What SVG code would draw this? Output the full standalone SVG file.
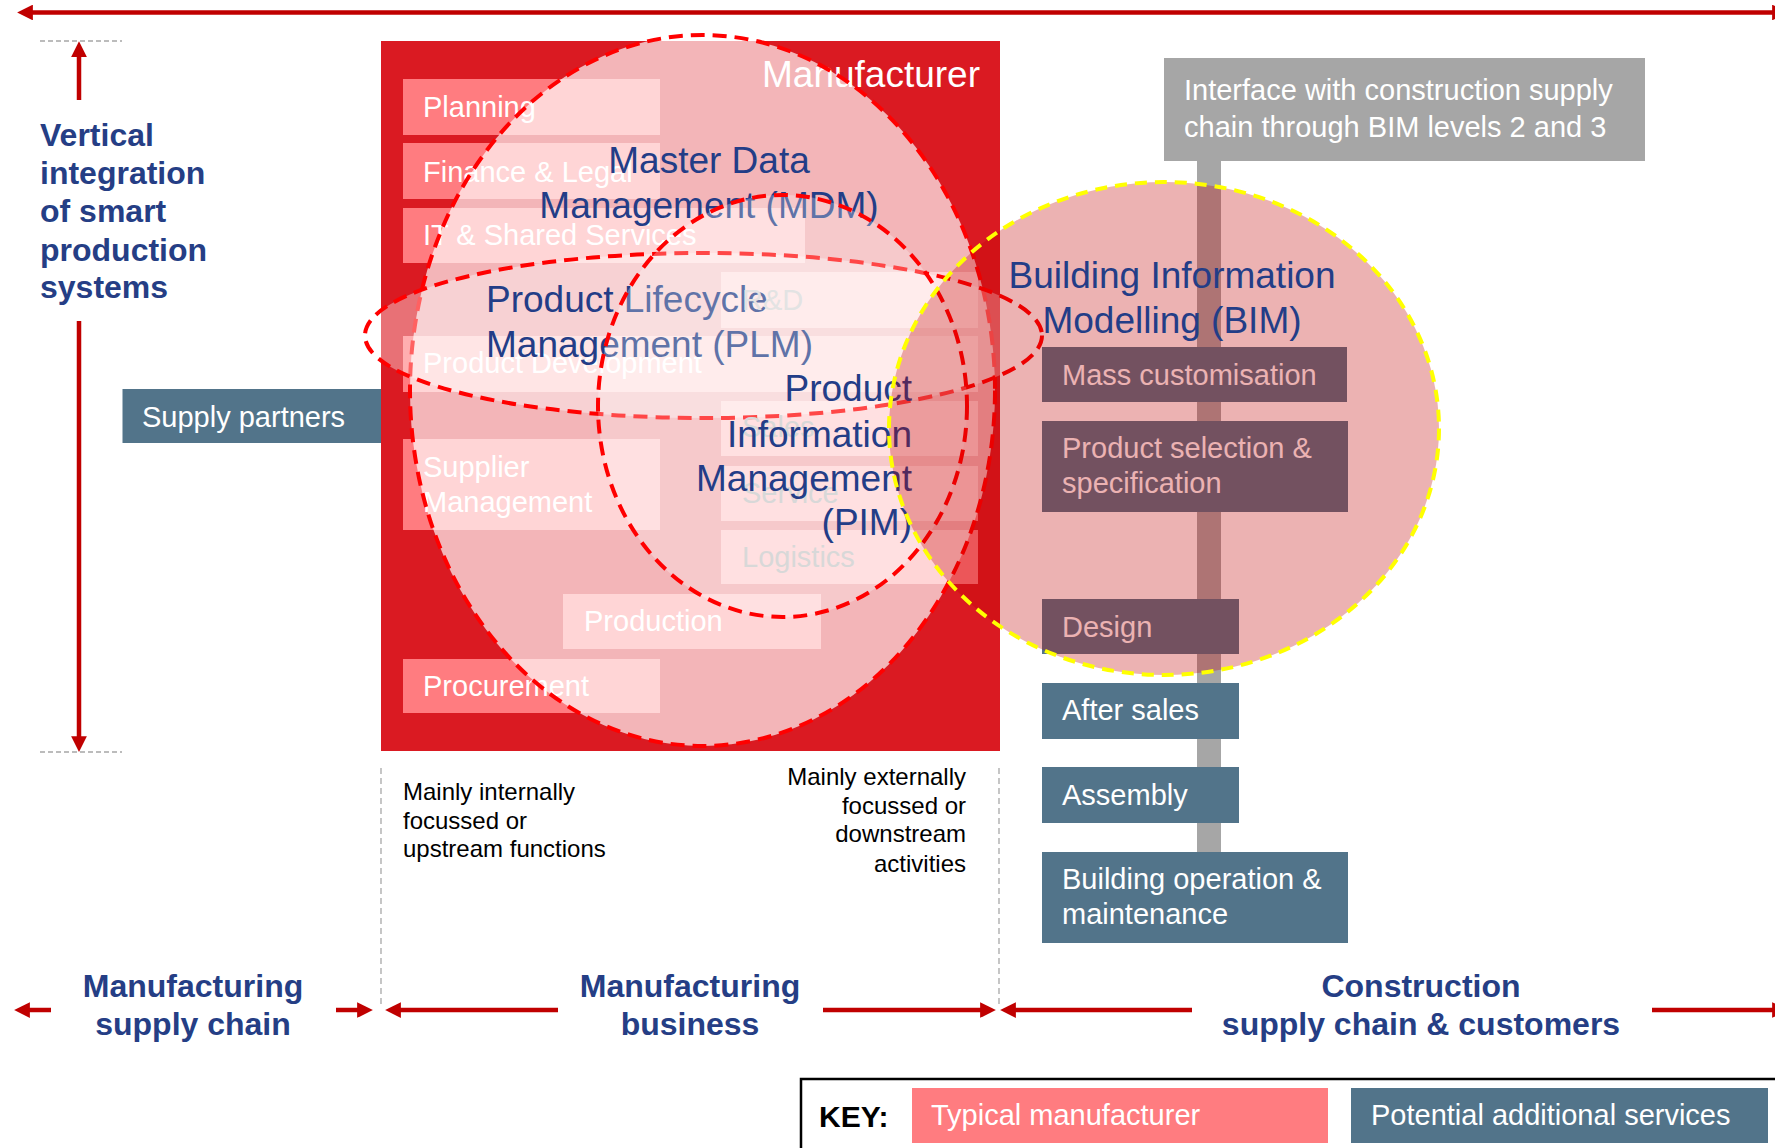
<svg xmlns="http://www.w3.org/2000/svg" width="1775" height="1148" viewBox="0 0 1775 1148">
<defs>
<marker id="ah" viewBox="0 0 10 10" refX="5" refY="5" markerWidth="3.5" markerHeight="3.5" orient="auto-start-reverse" markerUnits="strokeWidth">
<path d="M0,0 L10,5 L0,10 z" fill="#C00000"/>
</marker>
</defs>
<style>
text{font-family:"Liberation Sans",Arial,sans-serif}
.fn{fill:#FF7C80}
.wt{fill:#fff;font-size:29px}
.gt{fill:#C9C9C9;font-size:29px}
.svc{fill:#52748A}
.big{fill:#233D87;font-size:37px}
.nav{fill:#253E85;font-size:32px;font-weight:bold}
.ann{fill:#000;font-size:24px}
.arr{stroke:#C00000;stroke-width:4.5;fill:none}
.ov{fill:#fff;stroke:#FF0000;stroke-width:4;stroke-dasharray:14 8}
.gdash{stroke:#A6A6A6;stroke-width:1.5;stroke-dasharray:5 3;fill:none}
.vdash{stroke:#A0A0A0;stroke-width:1.2;stroke-dasharray:6 4;fill:none}
</style>
<rect width="1775" height="1148" fill="#fff"/>

<g id="vertical-label">
<line class="gdash" x1="40" y1="41" x2="122" y2="41"/>
<line class="gdash" x1="40" y1="752" x2="122" y2="752"/>
<text class="nav" x="40" y="146">Vertical</text>
<text class="nav" x="40" y="184">integration</text>
<text class="nav" x="40" y="222">of smart</text>
<text class="nav" x="40" y="261">production</text>
<text class="nav" x="40" y="298">systems</text>
</g>

<g id="supply-partners">
<rect class="svc" x="122.5" y="389" width="259" height="54"/>
<text class="wt" x="142" y="427">Supply partners</text>
</g>

<g id="manufacturer">
<rect x="381" y="41" width="619" height="710" fill="#DA1A22"/>
<text x="980" y="87" fill="#fff" font-size="37" text-anchor="end">Manufacturer</text>
</g>

<g id="fn-planning"><rect class="fn" x="403" y="79" width="257" height="56"/><text class="wt" x="423" y="117">Planning</text></g>
<g id="fn-finance"><rect class="fn" x="403" y="143" width="257" height="56"/><text class="wt" x="423" y="182">Finance &amp; Legal</text></g>
<g id="fn-it"><rect class="fn" x="403" y="208" width="402" height="55"/><text class="wt" x="423" y="245">IT &amp; Shared Services</text></g>
<g id="fn-rd"><rect class="fn" x="721" y="272" width="257" height="56"/></g>
<g id="fn-product-dev"><rect class="fn" x="403" y="336" width="575" height="56"/><text class="wt" x="423" y="373">Product Development</text></g>
<g id="fn-sales"><rect class="fn" x="721" y="401" width="257" height="55"/></g>
<g id="fn-supplier"><rect class="fn" x="403" y="439" width="257" height="91"/><text class="wt" x="423" y="477">Supplier</text><text class="wt" x="423" y="512">Management</text></g>
<g id="fn-service"><rect class="fn" x="721" y="466" width="257" height="55"/></g>
<g id="fn-logistics"><rect class="fn" x="721" y="530" width="257" height="54"/></g>
<g id="fn-production"><rect class="fn" x="563" y="594" width="258" height="55"/><text class="wt" x="584" y="631">Production</text></g>
<g id="fn-procurement"><rect class="fn" x="403" y="659" width="257" height="54"/><text class="wt" x="423" y="696">Procurement</text></g>

<g id="mdm">
<ellipse class="ov" cx="702.5" cy="390.5" rx="292.5" ry="355.5" fill-opacity="0.68"/>
<text class="big" x="709" y="173" text-anchor="middle">Master Data</text>
<text class="big" x="709" y="218" text-anchor="middle">Management (MDM)</text>
</g>

<g id="plm">
<ellipse class="ov" cx="703.5" cy="335.5" rx="338.5" ry="82.5" fill-opacity="0.38"/>
<text class="big" x="486" y="312">Product Lifecycle</text>
<text class="big" x="486" y="357">Management (PLM)</text>
</g>

<g id="fn-labels-right">
<text class="gt" x="742" y="310" fill="#D8D8D8" style="fill:#D8D8D8">R&amp;D</text>
<text class="gt" x="742" y="437">Sales</text>
<text class="gt" x="742" y="503">Service</text>
<text class="gt" x="742" y="567">Logistics</text>
</g>

<g id="pim">
<ellipse class="ov" cx="782.5" cy="406" rx="184.5" ry="211" fill-opacity="0.28"/>
<text class="big" x="912" y="401" text-anchor="end">Product</text>
<text class="big" x="912" y="447" text-anchor="end">Information</text>
<text class="big" x="912" y="491" text-anchor="end">Management</text>
<text class="big" x="912" y="535" text-anchor="end">(PIM)</text>
</g>

<g id="interface">
<rect x="1197" y="150" width="24" height="705" fill="#A6A6A6"/>
<rect x="1164" y="58" width="481" height="103" fill="#A6A6A6"/>
<text class="wt" x="1184" y="100">Interface with construction supply</text>
<text class="wt" x="1184" y="137">chain through BIM levels 2 and 3</text>
</g>

<g id="svc-mass"><rect class="svc" x="1042" y="347" width="305" height="55"/><text class="wt" x="1062" y="385">Mass customisation</text></g>
<g id="svc-selection"><rect class="svc" x="1042" y="421" width="306" height="91"/><text class="wt" x="1062" y="458">Product selection &amp;</text><text class="wt" x="1062" y="493">specification</text></g>
<g id="svc-design"><rect class="svc" x="1042" y="599" width="197" height="55"/><text class="wt" x="1062" y="637">Design</text></g>
<g id="svc-aftersales"><rect class="svc" x="1042" y="683" width="197" height="56"/><text class="wt" x="1062" y="720">After sales</text></g>
<g id="svc-assembly"><rect class="svc" x="1042" y="767" width="197" height="56"/><text class="wt" x="1062" y="805">Assembly</text></g>
<g id="svc-building"><rect class="svc" x="1042" y="852" width="306" height="91"/><text class="wt" x="1062" y="889">Building operation &amp;</text><text class="wt" x="1062" y="924">maintenance</text></g>

<g id="bim">
<ellipse cx="1164" cy="428.5" rx="275" ry="246.5" fill="#C00000" fill-opacity="0.3" stroke="#FFFF00" stroke-width="4" stroke-dasharray="12 8"/>
<text class="big" x="1172" y="288" text-anchor="middle">Building Information</text>
<text class="big" x="1172" y="333" text-anchor="middle">Modelling (BIM)</text>
</g>

<g id="annotations">
<line class="vdash" x1="381" y1="768" x2="381" y2="1005"/>
<line class="vdash" x1="999" y1="768" x2="999" y2="1005"/>
<text class="ann" x="403" y="800">Mainly internally</text>
<text class="ann" x="403" y="829">focussed or</text>
<text class="ann" x="403" y="857">upstream functions</text>
<text class="ann" x="966" y="785" text-anchor="end">Mainly externally</text>
<text class="ann" x="966" y="814" text-anchor="end">focussed or</text>
<text class="ann" x="966" y="842" text-anchor="end">downstream</text>
<text class="ann" x="966" y="872" text-anchor="end">activities</text>
</g>

<g id="label-supply-chain">
<text class="nav" x="193" y="997" text-anchor="middle">Manufacturing</text>
<text class="nav" x="193" y="1035" text-anchor="middle">supply chain</text>
</g>
<g id="label-business">
<text class="nav" x="690" y="997" text-anchor="middle">Manufacturing</text>
<text class="nav" x="690" y="1035" text-anchor="middle">business</text>
</g>
<g id="label-construction">
<text class="nav" x="1421" y="997" text-anchor="middle">Construction</text>
<text class="nav" x="1421" y="1035" text-anchor="middle">supply chain &amp; customers</text>
</g>

<g id="connectors">
<line class="arr" x1="25" y1="12.5" x2="1780" y2="12.5" marker-start="url(#ah)" marker-end="url(#ah)"/>
<line class="arr" x1="79" y1="100" x2="79" y2="49" marker-end="url(#ah)"/>
<line class="arr" x1="79" y1="321" x2="79" y2="744" marker-end="url(#ah)"/>
<line class="arr" x1="51" y1="1010" x2="22" y2="1010" marker-end="url(#ah)"/>
<line class="arr" x1="336" y1="1010" x2="365" y2="1010" marker-end="url(#ah)"/>
<line class="arr" x1="558" y1="1010" x2="393" y2="1010" marker-end="url(#ah)"/>
<line class="arr" x1="823" y1="1010" x2="988" y2="1010" marker-end="url(#ah)"/>
<line class="arr" x1="1192" y1="1010" x2="1008" y2="1010" marker-end="url(#ah)"/>
<line class="arr" x1="1652" y1="1010" x2="1780" y2="1010" marker-end="url(#ah)"/>
</g>

<g id="key">
<rect x="801" y="1079" width="1000" height="100" fill="#fff" stroke="#000" stroke-width="2.5"/>
<text x="819" y="1127" font-size="30" font-weight="bold" fill="#000">KEY:</text>
<rect class="fn" x="912" y="1088" width="416" height="55"/>
<text class="wt" x="931" y="1125">Typical manufacturer</text>
<rect class="svc" x="1351" y="1088" width="417" height="55"/>
<text class="wt" x="1371" y="1125">Potential additional services</text>
</g>
</svg>
